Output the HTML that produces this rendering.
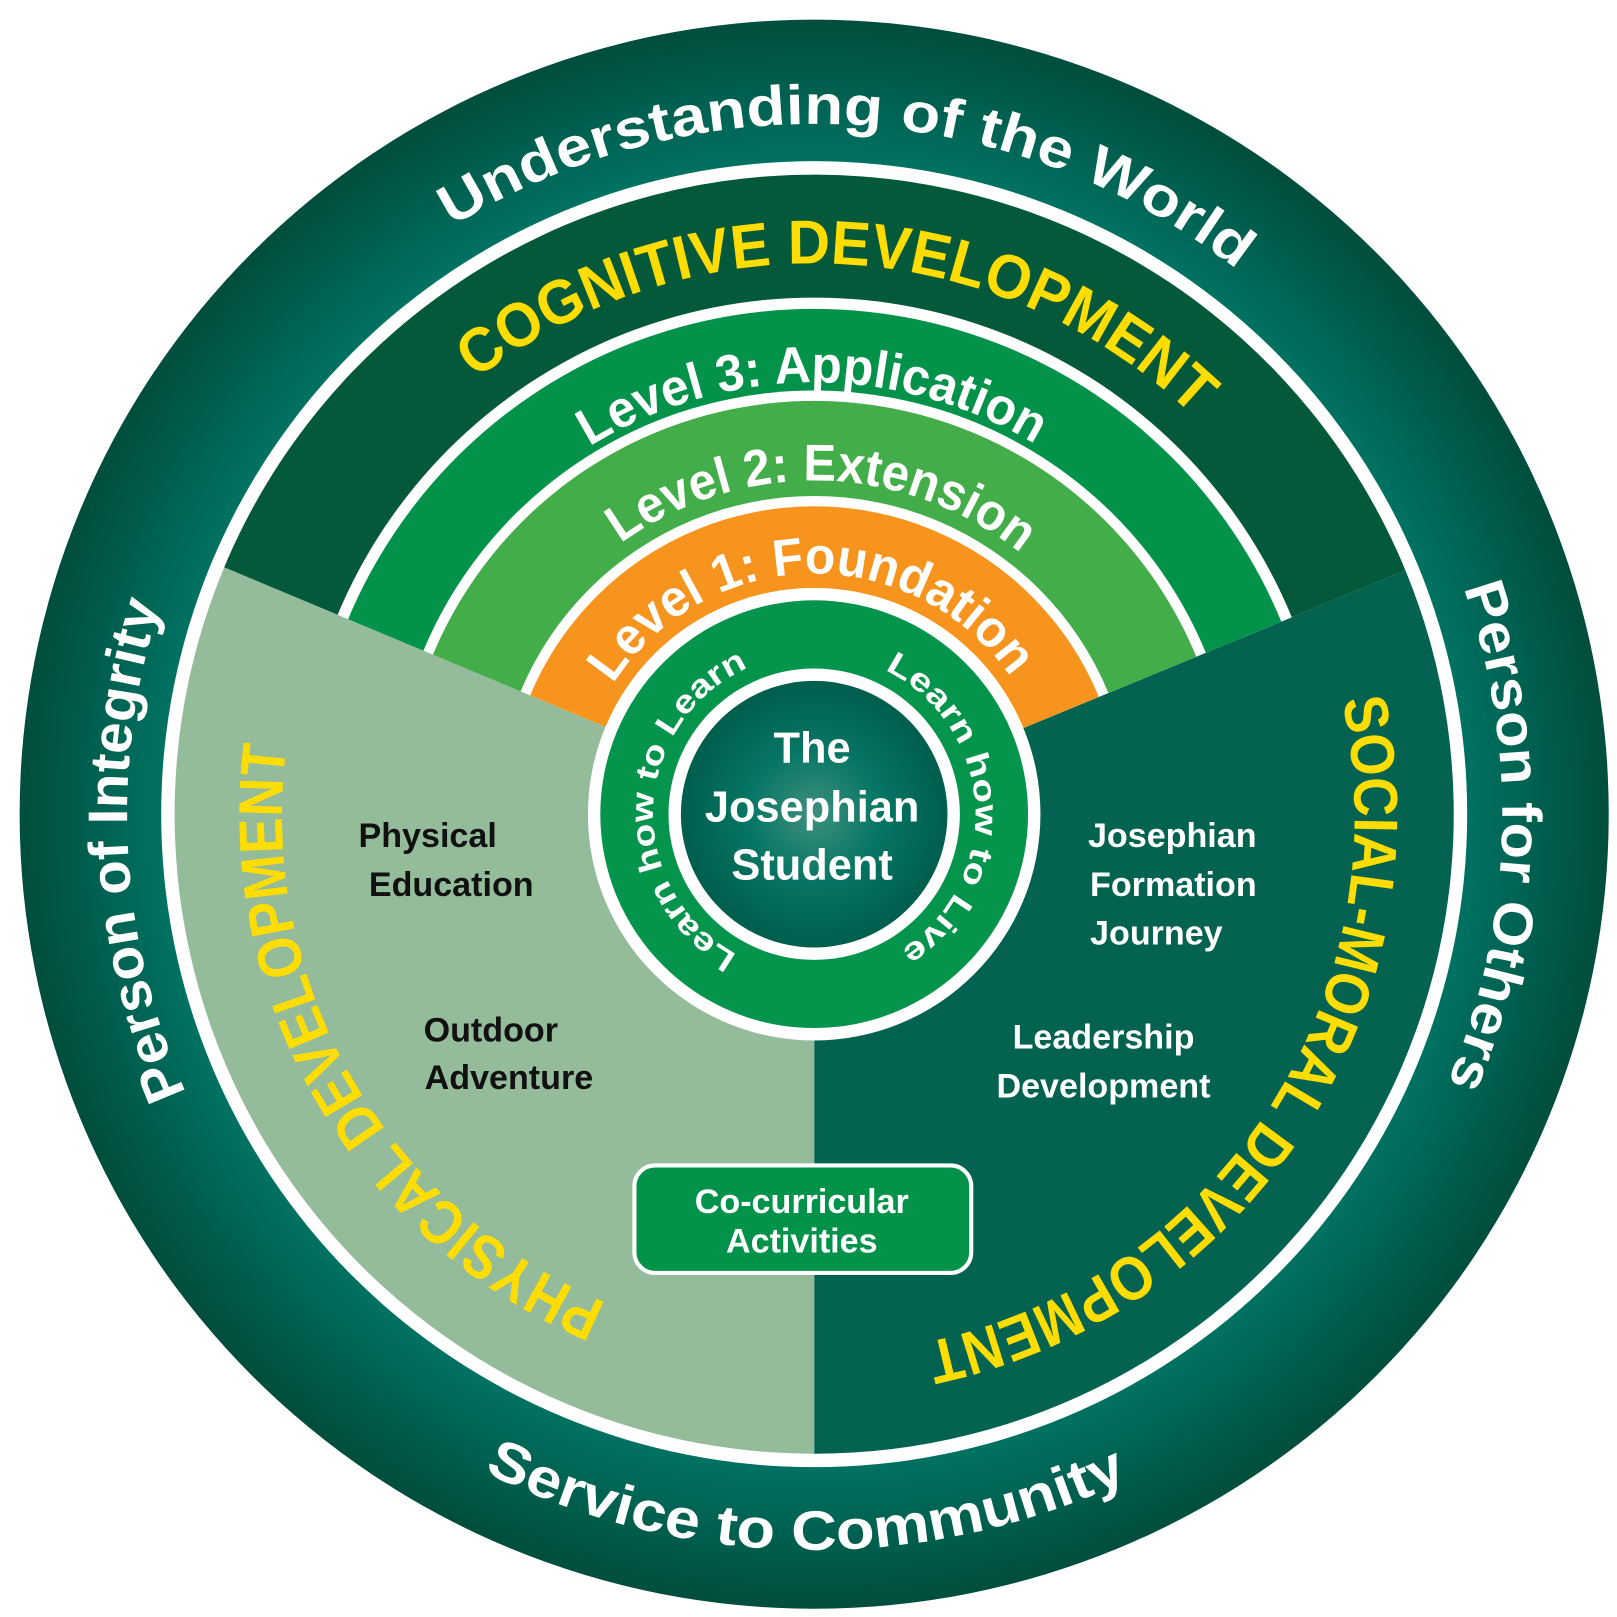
<!DOCTYPE html>
<html><head><meta charset="utf-8"><style>
html,body{margin:0;padding:0;background:#fff;}
svg{display:block;}
text{font-family:"Liberation Sans","DejaVu Sans",sans-serif;font-weight:bold;}
</style></head><body>
<svg id="chart" width="1617" height="1617" viewBox="0 0 1565 1565" xmlns="http://www.w3.org/2000/svg">
<defs>
<radialGradient id="outerG" cx="788" cy="788" r="770" gradientUnits="userSpaceOnUse">
<stop offset="0.78" stop-color="#007a6a"/><stop offset="1" stop-color="#004d3c"/>
</radialGradient>
<radialGradient id="coreG" cx="788" cy="788" r="130" gradientUnits="userSpaceOnUse">
<stop offset="0" stop-color="#3f8f7e"/><stop offset="0.5" stop-color="#067563"/><stop offset="1" stop-color="#005d4c"/>
</radialGradient>
<clipPath id="cogClip"><path id="cogClipPath"/></clipPath>
<path id="pTop"/><path id="pLeft"/><path id="pRight"/><path id="pBottom"/>
<path id="pCog"/><path id="pL3"/><path id="pL2"/><path id="pL1"/>
<path id="pPhys"/><path id="pSoc"/><path id="pLL"/><path id="pLV"/>
</defs>
<circle cx="788" cy="788" r="769" fill="url(#outerG)"/>
<circle cx="788" cy="788" r="632" fill="#fff"/>
<path id="wCog" fill="#05593b"/>
<path id="wSoc" fill="#036350"/>
<path id="wPhys" fill="#94bc9b"/>
<g clip-path="url(#cogClip)">
<circle cx="788" cy="788" r="500" fill="#fff"/>
<circle cx="788" cy="788" r="489" fill="#03924a"/>
<circle cx="788" cy="788" r="410" fill="#fff"/>
<circle cx="788" cy="788" r="400" fill="#42ad49"/>
<circle cx="788" cy="788" r="308" fill="#fff"/>
<circle cx="788" cy="788" r="298" fill="#f7941d"/>
</g>
<circle cx="788" cy="788" r="219" fill="#fff"/>
<circle cx="788" cy="788" r="207" fill="#05944b"/>
<circle cx="788" cy="788" r="141" fill="#fff"/>
<circle cx="788" cy="788" r="129" fill="url(#coreG)"/>

<g fill="#fff" font-size="54">
<text><textPath href="#pTop" startOffset="50%" text-anchor="middle" textLength="810" lengthAdjust="spacingAndGlyphs">Understanding of the World</textPath></text>
<text><textPath href="#pLeft" startOffset="50%" text-anchor="middle" textLength="484" lengthAdjust="spacingAndGlyphs">Person of Integrity</textPath></text>
<text><textPath href="#pRight" startOffset="50%" text-anchor="middle" textLength="491" lengthAdjust="spacingAndGlyphs">Person for Others</textPath></text>
<text><textPath href="#pBottom" startOffset="50%" text-anchor="middle" textLength="646" lengthAdjust="spacingAndGlyphs">Service to Community</textPath></text>
</g>
<g fill="#ffdd00" font-size="60">
<text><textPath href="#pCog" startOffset="50%" text-anchor="middle" textLength="758" lengthAdjust="spacingAndGlyphs">COGNITIVE DEVELOPMENT</textPath></text>
<text><textPath href="#pPhys" startOffset="50%" text-anchor="middle" textLength="668" lengthAdjust="spacingAndGlyphs">PHYSICAL DEVELOPMENT</textPath></text>
<text><textPath href="#pSoc" startOffset="50%" text-anchor="middle" textLength="825" lengthAdjust="spacingAndGlyphs">SOCIAL-MORAL DEVELOPMENT</textPath></text>
</g>
<g fill="#fff" font-size="50">
<text><textPath href="#pL3" startOffset="50%" text-anchor="middle" textLength="454" lengthAdjust="spacingAndGlyphs">Level 3: Application</textPath></text>
<text><textPath href="#pL2" startOffset="50%" text-anchor="middle" textLength="416" lengthAdjust="spacingAndGlyphs">Level 2: Extension</textPath></text>
<text><textPath href="#pL1" startOffset="50%" text-anchor="middle" textLength="455" lengthAdjust="spacingAndGlyphs">Level 1: Foundation</textPath></text>
</g>
<g fill="#fff" font-size="31">
<text><textPath href="#pLL" startOffset="50%" text-anchor="middle" textLength="345" lengthAdjust="spacingAndGlyphs">Learn how to Learn</textPath></text>
<text><textPath href="#pLV" startOffset="50%" text-anchor="middle" textLength="330" lengthAdjust="spacingAndGlyphs">Learn how to Live</textPath></text>
</g>
<g fill="#fff" font-size="42" text-anchor="middle">
<text x="786" y="738">The</text><text x="786" y="795">Josephian</text><text x="786" y="851">Student</text>
</g>
<g fill="#111" font-size="33">
<text><tspan x="347" y="820">Physical</tspan><tspan x="357" y="867">Education</tspan></text>
<text><tspan x="410" y="1008">Outdoor</tspan><tspan x="411" y="1054">Adventure</tspan></text>
</g>
<g fill="#fff" font-size="33">
<text><tspan x="1053" y="820">Josephian</tspan><tspan x="1055" y="867">Formation</tspan><tspan x="1055" y="914">Journey</tspan></text>
<text text-anchor="middle"><tspan x="1068" y="1015">Leadership</tspan><tspan x="1068" y="1062">Development</tspan></text>
</g>
<g>
<rect x="614" y="1128" width="326" height="104" rx="20" fill="#03924a" stroke="#fff" stroke-width="4"/>
<text x="776" y="1174" fill="#fff" font-size="33" text-anchor="middle">Co-curricular</text>
<text x="776" y="1212" fill="#fff" font-size="33" text-anchor="middle">Activities</text>
</g>
</svg>
<script>
var cx=788, cy=788;
function P(r,a){var t=a*Math.PI/180;return (cx+r*Math.cos(t)).toFixed(2)+' '+(cy+r*Math.sin(t)).toFixed(2);}
function arc(r,c,ccw){var s=c+180,d=ccw?-180:180,sw=ccw?0:1;
 return 'M'+P(r,s)+' A'+r+' '+r+' 0 0 '+sw+' '+P(r,s+d)+' A'+r+' '+r+' 0 0 '+sw+' '+P(r,s+2*d-0.01*(ccw?-1:1));}
function wedge(r,a0,a1){return 'M'+cx+' '+cy+' L'+P(r,a0)+' A'+r+' '+r+' 0 0 1 '+P(r,a1)+' Z';}
function set(id,d){document.getElementById(id).setAttribute('d',d);}
set('wCog',wedge(619,-157.3,-22.4));
set('wSoc',wedge(619,-22.4,90));
set('wPhys',wedge(619,90,202.7));
set('cogClipPath',wedge(700,-157.3,-22.4));
set('pTop',arc(668,-86.8,false));
set('pLeft',arc(665,177,false));
set('pRight',arc(666,1.8,false));
set('pBottom',arc(712,90.7,true));
set('pCog',arc(533,-87,false));
set('pPhys',arc(515,150,false));
set('pSoc',arc(524,33,false));
set('pL3',arc(418,-90.3,false));
set('pL2',arc(323,-88.6,false));
set('pL1',arc(233,-91,false));
set('pLL',arc(156,182,false));
set('pLV',arc(156,-3.3,false));
</script>
</body></html>
